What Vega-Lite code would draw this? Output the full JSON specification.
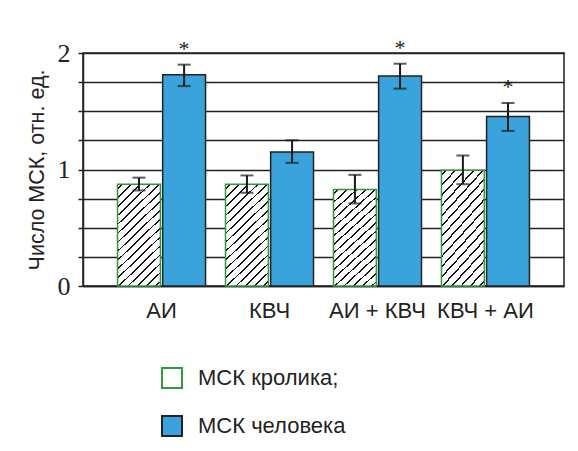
{
  "$schema": "https://vega.github.io/schema/vega-lite/v6.json",
  "width": 481,
  "height": 233,
  "autosize": {"type": "none"},
  "padding": {"left": 83, "top": 53, "right": 14, "bottom": 165},
  "background": "white",
  "config": {
    "view": {"stroke": "#222", "strokeWidth": 1.5},
    "font": "Liberation Sans",
    "axisY": {
      "grid": true, "gridColor": "#222", "gridWidth": 1.5, "gridOpacity": 1,
      "tickSize": 5, "tickColor": "#222", "tickWidth": 1.5,
      "domainColor": "#222", "domainWidth": 1.5,
      "labelFont": "Liberation Serif", "labelFontSize": 26, "labelColor": "#222", "labelPadding": 8,
      "titleFont": "Liberation Sans", "titleFontSize": 21.5, "titleFontWeight": "normal", "titleColor": "#222", "titlePadding": 9
    }
  },
  "data": {"values": [
    {"group": "АИ", "series": "МСК кролика;", "value": 0.874, "lo": 0.82, "hi": 0.93, "star": ""},
    {"group": "АИ", "series": "МСК человека", "value": 1.814, "lo": 1.716, "hi": 1.90, "star": "*"},
    {"group": "КВЧ", "series": "МСК кролика;", "value": 0.874, "lo": 0.80, "hi": 0.949, "star": ""},
    {"group": "КВЧ", "series": "МСК человека", "value": 1.151, "lo": 1.057, "hi": 1.251, "star": ""},
    {"group": "АИ + КВЧ", "series": "МСК кролика;", "value": 0.828, "lo": 0.709, "hi": 0.954, "star": ""},
    {"group": "АИ + КВЧ", "series": "МСК человека", "value": 1.802, "lo": 1.694, "hi": 1.908, "star": "*"},
    {"group": "КВЧ + АИ", "series": "МСК кролика;", "value": 0.994, "lo": 0.874, "hi": 1.12, "star": ""},
    {"group": "КВЧ + АИ", "series": "МСК человека", "value": 1.454, "lo": 1.331, "hi": 1.571, "star": "*"}
  ]},
  "encoding": {
    "x": {
      "field": "group", "type": "nominal", "sort": null,
      "scale": {"paddingInner": 0.185, "paddingOuter": 0.32},
      "axis": {"title": null, "ticks": false, "labelAngle": 0, "labelFont": "Liberation Sans", "labelFontSize": 22, "labelColor": "#222", "labelPadding": 14, "labelOverlap": false, "domainColor": "#222", "domainWidth": 1.5}
    },
    "xOffset": {
      "field": "series", "type": "nominal", "sort": ["МСК кролика;", "МСК человека"],
      "scale": {"paddingInner": 0.05, "paddingOuter": 0}
    }
  },
  "layer": [
    {
      "mark": {"type": "bar", "strokeWidth": 1.5},
      "encoding": {
        "y": {
          "field": "value", "type": "quantitative",
          "title": "Число МСК, отн. ед.",
          "scale": {"domain": [0, 2], "nice": false},
          "axis": {"values": [0, 0.25, 0.5, 0.75, 1, 1.25, 1.5, 1.75, 2], "labelExpr": "datum.value % 1 === 0 ? '' + datum.value : ''"}
        },
        "fill": {
          "field": "series", "type": "nominal",
          "condition": {
            "test": "datum.series === 'МСК кролика;'",
            "value": {"gradient": "linear", "x1": 0, "y1": 0, "x2": 0.49, "y2": 1.207, "stops": [
                {"offset": 0, "color": "white"},
                {"offset": 0.025, "color": "white"}, {"offset": 0.025, "color": "#111"}, {"offset": 0.0375, "color": "#111"}, {"offset": 0.0375, "color": "white"},
                {"offset": 0.0875, "color": "white"}, {"offset": 0.0875, "color": "#111"}, {"offset": 0.1, "color": "#111"}, {"offset": 0.1, "color": "white"},
                {"offset": 0.15, "color": "white"}, {"offset": 0.15, "color": "#111"}, {"offset": 0.1625, "color": "#111"}, {"offset": 0.1625, "color": "white"},
                {"offset": 0.2125, "color": "white"}, {"offset": 0.2125, "color": "#111"}, {"offset": 0.225, "color": "#111"}, {"offset": 0.225, "color": "white"},
                {"offset": 0.275, "color": "white"}, {"offset": 0.275, "color": "#111"}, {"offset": 0.2875, "color": "#111"}, {"offset": 0.2875, "color": "white"},
                {"offset": 0.3375, "color": "white"}, {"offset": 0.3375, "color": "#111"}, {"offset": 0.35, "color": "#111"}, {"offset": 0.35, "color": "white"},
                {"offset": 0.4, "color": "white"}, {"offset": 0.4, "color": "#111"}, {"offset": 0.4125, "color": "#111"}, {"offset": 0.4125, "color": "white"},
                {"offset": 0.4625, "color": "white"}, {"offset": 0.4625, "color": "#111"}, {"offset": 0.475, "color": "#111"}, {"offset": 0.475, "color": "white"},
                {"offset": 0.525, "color": "white"}, {"offset": 0.525, "color": "#111"}, {"offset": 0.5375, "color": "#111"}, {"offset": 0.5375, "color": "white"},
                {"offset": 0.5875, "color": "white"}, {"offset": 0.5875, "color": "#111"}, {"offset": 0.6, "color": "#111"}, {"offset": 0.6, "color": "white"},
                {"offset": 0.65, "color": "white"}, {"offset": 0.65, "color": "#111"}, {"offset": 0.6625, "color": "#111"}, {"offset": 0.6625, "color": "white"},
                {"offset": 0.7125, "color": "white"}, {"offset": 0.7125, "color": "#111"}, {"offset": 0.725, "color": "#111"}, {"offset": 0.725, "color": "white"},
                {"offset": 0.775, "color": "white"}, {"offset": 0.775, "color": "#111"}, {"offset": 0.7875, "color": "#111"}, {"offset": 0.7875, "color": "white"},
                {"offset": 0.8375, "color": "white"}, {"offset": 0.8375, "color": "#111"}, {"offset": 0.85, "color": "#111"}, {"offset": 0.85, "color": "white"},
                {"offset": 0.9, "color": "white"}, {"offset": 0.9, "color": "#111"}, {"offset": 0.9125, "color": "#111"}, {"offset": 0.9125, "color": "white"},
                {"offset": 0.9625, "color": "white"}, {"offset": 0.9625, "color": "#111"}, {"offset": 0.975, "color": "#111"}, {"offset": 0.975, "color": "white"},
                {"offset": 1, "color": "white"}
              ]}
          },
          "scale": {
            "domain": ["МСК кролика;", "МСК человека"],
            "range": ["white", "#3aa3dc"]
          },
          "legend": {
            "orient": "none", "legendX": 78, "legendY": 314, "title": null, "padding": 0,
            "symbolType": "square", "symbolSize": 400, "symbolStrokeWidth": 2,
            "labelFont": "Liberation Sans", "labelFontSize": 22, "labelColor": "#222", "labelOffset": 15, "rowPadding": 20
          }
        },
        "stroke": {
          "field": "series", "type": "nominal",
          "scale": {"domain": ["МСК кролика;", "МСК человека"], "range": ["#2f9a3c", "#222"]},
          "legend": {
            "orient": "none", "legendX": 78, "legendY": 314, "title": null, "padding": 0,
            "symbolType": "square", "symbolSize": 400, "symbolStrokeWidth": 2,
            "labelFont": "Liberation Sans", "labelFontSize": 22, "labelColor": "#222", "labelOffset": 15, "rowPadding": 20
          }
        }
      }
    },
    {
      "mark": {"type": "rule", "color": "#1a1a1a", "strokeWidth": 2},
      "encoding": {
        "y": {"field": "lo", "type": "quantitative", "title": "Число МСК, отн. ед.", "axis": {"values": [0, 0.25, 0.5, 0.75, 1, 1.25, 1.5, 1.75, 2], "labelExpr": "datum.value % 1 === 0 ? '' + datum.value : ''"}},
        "y2": {"field": "hi"}
      }
    },
    {
      "mark": {"type": "tick", "color": "#1a1a1a", "thickness": 2, "size": 13, "orient": "horizontal"},
      "encoding": {"y": {"field": "lo", "type": "quantitative", "title": "Число МСК, отн. ед.", "axis": {"values": [0, 0.25, 0.5, 0.75, 1, 1.25, 1.5, 1.75, 2], "labelExpr": "datum.value % 1 === 0 ? '' + datum.value : ''"}}}
    },
    {
      "mark": {"type": "tick", "color": "#1a1a1a", "thickness": 2, "size": 13, "orient": "horizontal"},
      "encoding": {"y": {"field": "hi", "type": "quantitative", "title": "Число МСК, отн. ед.", "axis": {"values": [0, 0.25, 0.5, 0.75, 1, 1.25, 1.5, 1.75, 2], "labelExpr": "datum.value % 1 === 0 ? '' + datum.value : ''"}}}
    },
    {
      "transform": [{"filter": "datum.star != ''"}],
      "mark": {"type": "text", "font": "Liberation Serif", "fontSize": 22, "dy": -9, "baseline": "alphabetic", "color": "#1a1a1a"},
      "encoding": {
        "y": {"field": "hi", "type": "quantitative", "title": "Число МСК, отн. ед.", "axis": {"values": [0, 0.25, 0.5, 0.75, 1, 1.25, 1.5, 1.75, 2], "labelExpr": "datum.value % 1 === 0 ? '' + datum.value : ''"}},
        "text": {"field": "star"}
      }
    }
  ]
}
